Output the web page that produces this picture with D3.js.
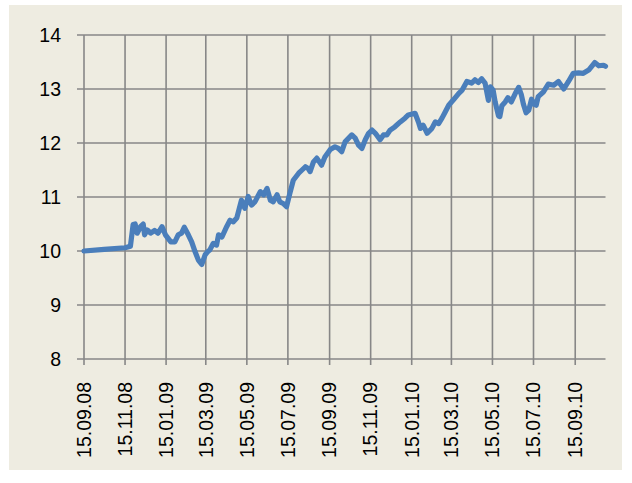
<!DOCTYPE html>
<html>
<head>
<meta charset="utf-8">
<script src="https://cdn.jsdelivr.net/npm/d3@7"></script>
<style>
  html, body { margin: 0; padding: 0; background: #ffffff; }
  svg { display: block; }
  text { font-family: "Liberation Sans", Arial, sans-serif; fill: #000; }
</style>
</head>
<body>
<svg id="chart" width="632" height="483"></svg>
<script>
// ---- data ----
const tickLabels = ["15.09.08","15.11.08","15.01.09","15.03.09","15.05.09","15.07.09",
                    "15.09.09","15.11.09","15.01.10","15.03.10","15.05.10","15.07.10","15.09.10"];
const yTicks = [8, 9, 10, 11, 12, 13, 14];

const dates = [
 "2008-09-15","2008-10-15","2008-11-15","2008-11-23","2008-11-27","2008-11-30","2008-12-03","2008-12-08",
 "2008-12-12","2008-12-14","2008-12-18","2008-12-23","2008-12-29","2009-01-03","2009-01-09","2009-01-14",
 "2009-01-22","2009-01-28","2009-02-02","2009-02-07","2009-02-11","2009-02-17","2009-02-22","2009-02-27",
 "2009-03-04","2009-03-09","2009-03-14","2009-03-18","2009-03-21","2009-03-26","2009-03-31","2009-04-03",
 "2009-04-08","2009-04-15","2009-04-20","2009-04-25","2009-04-30","2009-05-07","2009-05-12","2009-05-17",
 "2009-05-22","2009-05-27","2009-06-04","2009-06-09","2009-06-14","2009-06-19","2009-06-23","2009-06-29",
 "2009-07-03","2009-07-08","2009-07-13","2009-07-18","2009-07-23","2009-07-31","2009-08-05","2009-08-10",
 "2009-08-14","2009-08-17","2009-08-22","2009-08-27","2009-09-03","2009-09-08","2009-09-16","2009-09-23",
 "2009-09-28","2009-10-03","2009-10-08","2009-10-18","2009-10-23","2009-10-28","2009-11-02","2009-11-07",
 "2009-11-12","2009-11-17","2009-11-22","2009-11-29","2009-12-04","2009-12-09","2009-12-14","2009-12-21",
 "2009-12-29","2010-01-05","2010-01-10","2010-01-20","2010-01-25","2010-01-28","2010-02-01","2010-02-07",
 "2010-02-14","2010-02-19","2010-02-24","2010-03-01","2010-03-06","2010-03-11","2010-03-18","2010-03-26",
 "2010-03-31","2010-04-07","2010-04-14","2010-04-19","2010-04-24","2010-04-29","2010-05-04","2010-05-09",
 "2010-05-12","2010-05-16","2010-05-19","2010-05-24","2010-05-26","2010-05-29","2010-06-03","2010-06-07",
 "2010-06-12","2010-06-18","2010-06-23","2010-06-27","2010-06-30","2010-07-04","2010-07-08","2010-07-12",
 "2010-07-16","2010-07-19","2010-07-22","2010-07-30","2010-08-06","2010-08-14","2010-08-21","2010-08-29",
 "2010-09-05","2010-09-12","2010-09-20","2010-09-27","2010-10-05","2010-10-14","2010-10-20","2010-10-27",
 "2010-10-30"
];
const values = [
 10.00,10.03,10.06,10.09,10.49,10.50,10.33,10.45,
 10.50,10.30,10.39,10.33,10.38,10.33,10.45,10.30,
 10.17,10.17,10.30,10.33,10.44,10.30,10.17,9.99,
 9.83,9.75,9.93,9.99,10.02,10.14,10.11,10.30,
 10.26,10.45,10.57,10.54,10.61,10.94,10.79,11.01,
 10.85,10.91,11.10,11.04,11.16,10.94,10.91,11.04,
 10.91,10.88,10.82,11.07,11.31,11.44,11.50,11.56,
 11.53,11.47,11.65,11.72,11.59,11.74,11.88,11.93,
 11.90,11.84,12.02,12.15,12.09,11.96,11.90,12.06,
 12.18,12.24,12.18,12.06,12.15,12.15,12.24,12.30,
 12.39,12.46,12.52,12.55,12.39,12.27,12.33,12.18,
 12.27,12.39,12.36,12.46,12.58,12.70,12.80,12.92,
 12.98,13.14,13.11,13.17,13.12,13.19,13.11,12.79,
 13.04,12.98,12.76,12.50,12.49,12.69,12.76,12.84,
 12.76,12.92,13.03,12.89,12.72,12.56,12.61,12.81,
 12.72,12.70,12.86,12.95,13.09,13.07,13.14,13.00,
 13.14,13.29,13.30,13.29,13.35,13.49,13.43,13.44,
 13.42
];

// ---- layout ----
const W = 632, H = 483;
const plot = { left: 84, right: 605.5, top: 35, bottom: 359 };

const parseISO = d3.timeParse("%Y-%m-%d");
const parseLbl = d3.timeParse("%d.%m.%y");
const series = dates.map((d, i) => ({ date: parseISO(d), value: values[i] }));
const tickDates = tickLabels.map(parseLbl);

const x = d3.scaleTime()
  .domain([parseISO("2008-09-15"), parseISO("2010-10-30")])
  .range([plot.left, plot.right]);
const y = d3.scaleLinear().domain([8, 14]).range([plot.bottom, plot.top]);

const svg = d3.select("#chart");

// chart area background
svg.append("rect")
  .attr("x", 9).attr("y", 5).attr("width", 613).attr("height", 465)
  .attr("fill", "#EEECE1");

const gridColor = "#878787";

// horizontal gridlines + y tick marks
svg.append("g")
  .selectAll("line").data(yTicks).join("line")
  .attr("x1", plot.left - 7).attr("x2", plot.right)
  .attr("y1", d => y(d)).attr("y2", d => y(d))
  .attr("stroke", gridColor).attr("stroke-width", 1.6);

// vertical gridlines + x tick marks
svg.append("g")
  .selectAll("line").data(tickDates).join("line")
  .attr("x1", d => x(d)).attr("x2", d => x(d))
  .attr("y1", plot.top).attr("y2", plot.bottom + 6)
  .attr("stroke", gridColor).attr("stroke-width", 1.6);

// y labels
svg.append("g")
  .selectAll("text").data(yTicks).join("text")
  .attr("x", 61).attr("y", d => y(d)).attr("dy", "0.35em")
  .attr("text-anchor", "end")
  .style("font-size", "19.5px")
  .text(d => d);

// x labels (rotated)
svg.append("g")
  .selectAll("text").data(tickDates).join("text")
  .attr("transform", d => `translate(${x(d)},382) rotate(-90)`)
  .attr("dy", "0.35em")
  .attr("text-anchor", "end")
  .style("font-size", "19.5px")
  .text((d, i) => tickLabels[i]);

// series line
const line = d3.line().x(d => x(d.date)).y(d => y(d.value));
svg.append("path")
  .datum(series)
  .attr("d", line)
  .attr("fill", "none")
  .attr("stroke", "#4A7EBB")
  .attr("stroke-width", 5.2)
  .attr("stroke-linejoin", "round")
  .attr("stroke-linecap", "round");
</script>
</body>
</html>
